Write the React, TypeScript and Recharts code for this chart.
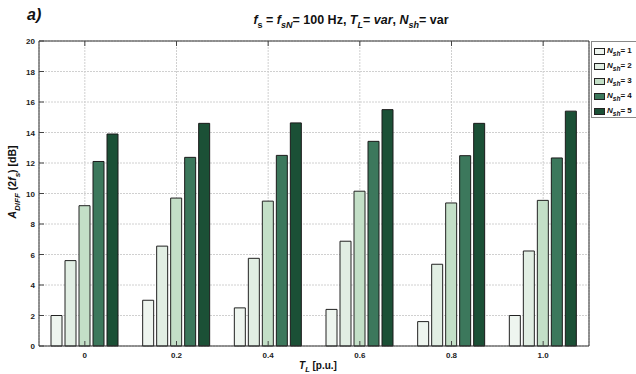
import React from 'react';
import { BarChart, Bar, XAxis, YAxis, CartesianGrid } from 'recharts';

const categories = ['0', '0.2', '0.4', '0.6', '0.8', '1.0'];
const nsh1 = [2.0, 3.0, 2.5, 2.4, 1.6, 2.0];
const nsh2 = [5.6, 6.55, 5.75, 6.87, 5.36, 6.23];
const nsh3 = [9.2, 9.7, 9.5, 10.15, 9.38, 9.55];
const nsh4 = [12.1, 12.37, 12.5, 13.42, 12.48, 12.33];
const nsh5 = [13.9, 14.6, 14.63, 15.5, 14.6, 15.4];
const yTicks = [0, 2, 4, 6, 8, 10, 12, 14, 16, 18, 20];
const seriesNames = ['1', '2', '3', '4', '5'];
const colors = ['#eef5ef', '#e1eee3', '#c3dfc7', '#3c785c', '#1b5036'];

const data = categories.map((c, i) => ({
  cat: c,
  s1: nsh1[i],
  s2: nsh2[i],
  s3: nsh3[i],
  s4: nsh4[i],
  s5: nsh5[i],
}));

const FONT = 'Arial, "Liberation Sans", Helvetica, sans-serif';

const LeftTick = (props: any) => {
  const { x, y, payload } = props;
  return (
    <g>
      <line x1={x} x2={x + 5} y1={y} y2={y} stroke="#444" strokeWidth={1} />
      <text x={x - 4} y={y} dy={3} textAnchor="end" fontSize={8} fontWeight="bold" fill="#222" fontFamily={FONT}>
        {payload.value}
      </text>
    </g>
  );
};

const RightTick = (props: any) => {
  const { x, y } = props;
  return <line x1={x - 5} x2={x} y1={y} y2={y} stroke="#444" strokeWidth={1} />;
};

const BottomTick = (props: any) => {
  const { x, y, payload } = props;
  return (
    <g>
      <line x1={x} x2={x} y1={y} y2={y - 5} stroke="#444" strokeWidth={1} />
      <text x={x} y={y + 12} textAnchor="middle" fontSize={8} fontWeight="bold" fill="#222" fontFamily={FONT}>
        {payload.value}
      </text>
    </g>
  );
};

const TopTick = (props: any) => {
  const { x, y } = props;
  return <line x1={x} x2={x} y1={y} y2={y + 5} stroke="#444" strokeWidth={1} />;
};

export default function App() {
  const keys = ['s1', 's2', 's3', 's4', 's5'];
  return (
    <div style={{ position: 'absolute', left: 0, top: 0, width: 636, height: 374, overflow: 'hidden', background: '#fff', fontFamily: FONT }}>
      <BarChart
        width={636}
        height={374}
        data={data}
        margin={{ top: 40, right: 46, bottom: 27, left: 38 }}
        barSize={11}
        barGap={3}
      >
        <CartesianGrid xAxisId="b" yAxisId="l" stroke="#d0d0d0" strokeDasharray="2 1" />
        <XAxis
          dataKey="cat"
          xAxisId="b"
          height={1}
          tickSize={0}
          tickMargin={0}
          tick={<BottomTick />}
          tickLine={false}
          axisLine={{ stroke: '#333' }}
          interval={0}
        />
        <XAxis
          dataKey="cat"
          xAxisId="t"
          orientation="top"
          height={1}
          tickSize={0}
          tickMargin={0}
          tick={<TopTick />}
          tickLine={false}
          axisLine={{ stroke: '#333' }}
          interval={0}
        />
        <YAxis
          yAxisId="l"
          width={1}
          domain={[0, 20]}
          ticks={yTicks}
          tickSize={0}
          tickMargin={0}
          tick={<LeftTick />}
          tickLine={false}
          axisLine={{ stroke: '#333' }}
          interval={0}
        />
        <YAxis
          yAxisId="r"
          orientation="right"
          width={1}
          domain={[0, 20]}
          ticks={yTicks}
          tickSize={0}
          tickMargin={0}
          tick={<RightTick />}
          tickLine={false}
          axisLine={{ stroke: '#333' }}
          interval={0}
        />
        {keys.map((k, i) => (
          <Bar
            key={k}
            dataKey={k}
            xAxisId="b"
            yAxisId="l"
            fill={colors[i]}
            stroke={i < 3 ? '#222' : '#1a1a1a'}
            strokeWidth={1}
            isAnimationActive={false}
          />
        ))}
      </BarChart>

      {/* panel label */}
      <div style={{ position: 'absolute', left: 27, top: 6, fontSize: 16, fontWeight: 'bold', fontStyle: 'italic', color: '#111' }}>a)</div>

      {/* title */}
      <div style={{ position: 'absolute', left: 0, width: 702, top: 13, textAlign: 'center', fontSize: 12.5, fontWeight: 'bold', color: '#111', whiteSpace: 'nowrap' }}>
        <i>f</i><sub style={{ fontSize: 9 }}>s</sub> = <i>f</i><sub style={{ fontSize: 9, fontStyle: 'italic' }}>sN</sub>= 100 Hz, <i>T</i><sub style={{ fontSize: 9, fontStyle: 'italic' }}>L</sub>= <i>var</i>, <i>N</i><sub style={{ fontSize: 9, fontStyle: 'italic' }}>sh</sub>= var
      </div>

      {/* y label */}
      <div style={{ position: 'absolute', left: 13.5, top: 182, width: 0, height: 0 }}>
        <div style={{ position: 'absolute', transform: 'translate(-50%,-50%) rotate(-90deg)', whiteSpace: 'nowrap', fontSize: 10.5, fontWeight: 'bold', color: '#111' }}>
          <i>A</i><sub style={{ fontSize: 8, fontStyle: 'italic' }}>DIFF</sub> (2<i>f</i><sub style={{ fontSize: 8, fontStyle: 'italic' }}>s</sub>) [dB]
        </div>
      </div>

      {/* x label */}
      <div style={{ position: 'absolute', left: 318, top: 367, width: 0, height: 0 }}>
        <div style={{ position: 'absolute', transform: 'translate(-50%,-50%)', whiteSpace: 'nowrap', fontSize: 10, fontWeight: 'bold', color: '#111' }}>
          <i>T</i><sub style={{ fontSize: 7.5, fontStyle: 'italic' }}>L</sub> [p.u.]
        </div>
      </div>

      {/* legend */}
      <div style={{ position: 'absolute', left: 591, top: 41, width: 60, height: 75, borderLeft: '1px solid #888', borderTop: '1px solid #888', borderBottom: '1px solid #888', background: '#fff' }}>
        {seriesNames.map((n, i) => (
          <div key={n} style={{ position: 'absolute', left: 2, top: 3 + i * 15, height: 12, whiteSpace: 'nowrap', display: 'flex', alignItems: 'center' }}>
            <div style={{ width: 11, height: 7, background: colors[i], border: '1px solid #222', boxSizing: 'border-box' }} />
            <span style={{ marginLeft: 2, fontSize: 8, fontWeight: 'bold', color: '#111' }}>
              <i>N</i><sub style={{ fontSize: 6.5, fontStyle: 'italic' }}>sh</sub>=&nbsp;{n}
            </span>
          </div>
        ))}
      </div>
    </div>
  );
}
